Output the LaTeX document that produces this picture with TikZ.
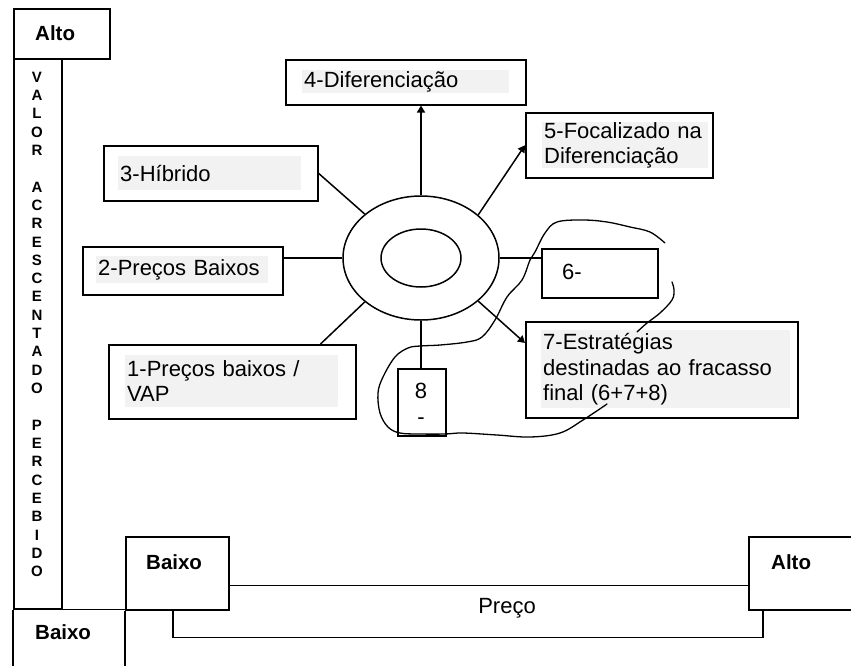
\documentclass[tikz,border=0pt]{standalone}
\usepackage{fontspec}
\setmainfont{Liberation Sans}
\usetikzlibrary{arrows.meta,shapes.geometric}
\definecolor{shadegray}{RGB}{242,242,242}

\begin{document}
\begin{tikzpicture}[x=1pt, y=-1pt,
      box/.style={draw, line width=1.5pt, anchor=north west, inner sep=0pt},
      shade/.style={fill=shadegray, anchor=north west, align=left, inner xsep=2pt, inner ysep=0pt, font=\fontsize{22}{25.5}\selectfont},
      plain/.style={inner sep=0pt, align=center, font=\fontsize{22}{25.5}\selectfont},
      axislbl/.style={anchor=west, inner sep=0pt, font=\fontsize{20.5}{24}\selectfont\bfseries},
      link/.style={line width=1.5pt},
      tip/.style={line width=1.5pt, -{Triangle[width=8pt,length=7pt]}},
      scrawl/.style={line width=1.3pt, line cap=round, line join=round}
    ]
      \useasboundingbox (0,0) rectangle (851,665);

      % Value axis
      \node[box, minimum width=96, minimum height=50] (vhigh) at (13,8) {};
      \node[axislbl] (vhigh-t) at (35,33) {Alto};
      \node[box, minimum width=48, minimum height=550] (vaxis) at (13,58) {};
      \node[anchor=north, align=center, inner sep=0pt, font=\fontsize{15}{18.33}\selectfont\bfseries] (vtext) at (37,71.5) {
        V\\A\\L\\O\\R\\[18.33pt]
        A\\C\\R\\E\\S\\C\\E\\N\\T\\A\\D\\O\\[18.33pt]
        P\\E\\R\\C\\E\\B\\I\\D\\O};
      \node[axislbl] (vlow-t) at (35,632) {Baixo};

      % Price axis
      \node[box, minimum width=103, minimum height=73] (plow) at (125,536) {};
      \node[axislbl] (plow-t) at (146,562) {Baixo};
      \node[box, minimum width=110, minimum height=73] (phigh) at (748,536) {};
      \node[axislbl] (phigh-t) at (771,562) {Alto};
      \node[plain] (preco) at (507,608) {Preço};
      \draw[link] (vaxis.south west) -- ++(0,57);
      \draw[link] (vaxis.south east) -- (vaxis.south east -| plow.south west);
      \draw[link] (plow.south west) -- ++(0,56);
      \draw[link] ([yshift=-12pt]plow.east) -- ([yshift=-12pt]plow.east -| phigh.west);
      \draw[link] ([xshift=48pt]plow.south west) -- ++(0,27) -| ([xshift=15pt]phigh.south west);

      % Centre
      \node[draw, ellipse, line width=1.5pt, minimum width=156, minimum height=124, inner sep=0pt] (core) at (421,258) {};
      \node[draw, ellipse, line width=1.5pt, minimum width=80, minimum height=58, inner sep=0pt] (hub) at (core) {};

      % Strategies
      \node[box, minimum width=240, minimum height=45] (dif) at (285,59) {};
      \node[shade, text width=203, minimum height=23] (dif-t) at (302,70) {4-Diferenciação};

      \node[box, minimum width=187, minimum height=65] (foc) at (525,112) {};
      \node[shade, text width=162, minimum height=44] (foc-t) at (542,122) {5-Focalizado na\\Diferenciação};

      \node[box, minimum width=214, minimum height=55] (hyb) at (103,145) {};
      \node[shade, text width=179, minimum height=34] (hyb-t) at (118,156) {3-Híbrido};

      \node[box, minimum width=200, minimum height=48] (cheap) at (82,246) {};
      \node[shade, text width=168, minimum height=27] (cheap-t) at (96,256) {2-Preços Baixos};

      \node[box, minimum width=247, minimum height=74] (low) at (108,344) {};
      \node[shade, text width=209, minimum height=52] (low-t) at (125,355) {1-Preços baixos /\\VAP};

      \node[box, minimum width=116, minimum height=49] (six) at (541,248) {};
      \node[plain, anchor=west] (six-t) at (562,272) {6-};

      \node[box, minimum width=272, minimum height=96] (fail) at (525,321) {};
      \node[shade, text width=245, minimum height=78] (fail-t) at (541,330) {7-Estratégias\\destinadas ao fracasso\\final (6+7+8)};

      \node[box, minimum width=48, minimum height=67] (eight) at (397,368) {};
      \node[plain] (eight-t) at (421,404) {8\\-};

      % Links
      \draw[tip] (core.north) -- (core.north |- dif.south);
      \draw[tip] (core.37) -- (foc.west);
      \draw[link] (hyb.east) -- (core.142);
      \draw[link] (core.west) -- (core.west -| cheap.east);
      \draw[link] (core.east) -- (core.east -| six.west);
      \draw[link] ([xshift=-36pt]low.north east) -- (core.218);
      \draw[tip] (core.323) -- ([yshift=-22pt]fail.north west);
      \draw[link] (core.south) -- (core.south |- eight.north);

      % Hand drawn loop
      \draw[scrawl] plot[smooth, tension=0.6] coordinates {(607,404) (583,420) (560,433) (530,437) (497,435) (463,433) (445,434) (420,434) (400,433) (388,427) (380,413) (378,393) (383,377) (395,357) (408,348) (420,346) (440,345) (467,342) (482,337) (495,320) (507,297) (522,280) (530,260) (535,252) (545,233) (557,222) (583,220) (607,222) (630,227) (650,232) (665,243)};
      \draw[scrawl] plot[smooth, tension=0.6] coordinates {(672,282) (674,290) (672,300) (660,313) (647,323) (637,332)};
    \end{tikzpicture}
\end{document}
